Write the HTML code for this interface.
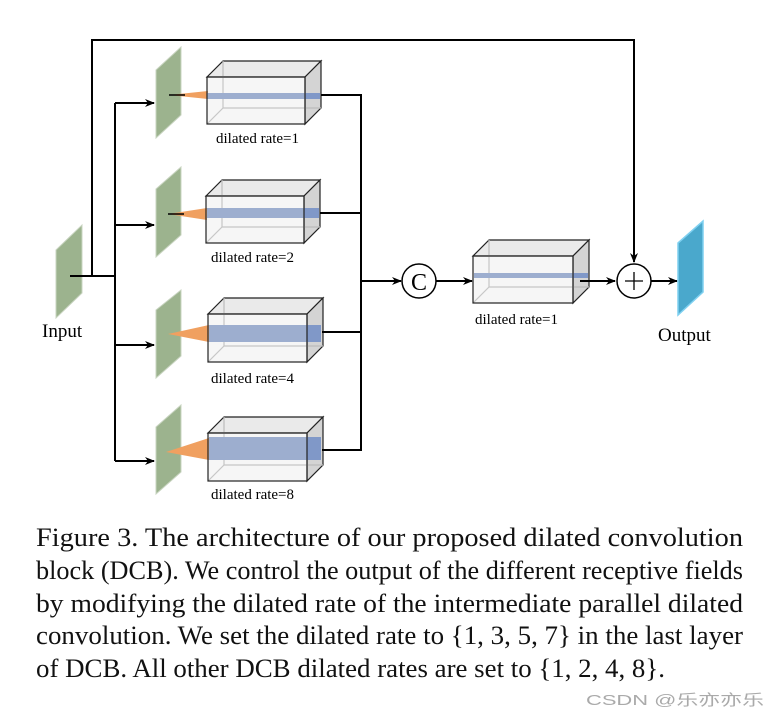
<!DOCTYPE html>
<html><head><meta charset="utf-8"><style>
html,body{margin:0;padding:0;background:#fff;}
svg{display:block;}
svg text{font-family:"Liberation Serif",serif;}
svg text.wm{font-family:"Liberation Sans","Noto Sans CJK SC",sans-serif;}
</style></head><body>
<svg width="780" height="719" viewBox="0 0 780 719" xmlns="http://www.w3.org/2000/svg">
<defs>
<marker id="ar" markerWidth="10" markerHeight="10" refX="9" refY="5" orient="auto" markerUnits="userSpaceOnUse">
<path d="M0,1 L10,5 L0,9 L3,5 Z" fill="#000"/>
</marker>
</defs>
<polyline points="92,276 92,40 634,40 634,262" fill="none" stroke="#000" stroke-width="2" marker-end="url(#ar)"/>
<polygon points="56,250 82,225 82,293 56,318" fill="#9cb38e" stroke="#c8d4c0" stroke-width="1"/>
<line x1="70" y1="276" x2="115" y2="276" stroke="#000" stroke-width="2"/>
<line x1="115" y1="103" x2="115" y2="461" stroke="#000" stroke-width="2"/>
<line x1="115" y1="103" x2="154" y2="103" stroke="#000" stroke-width="2" marker-end="url(#ar)"/>
<line x1="115" y1="225" x2="154" y2="225" stroke="#000" stroke-width="2" marker-end="url(#ar)"/>
<line x1="115" y1="345" x2="154" y2="345" stroke="#000" stroke-width="2" marker-end="url(#ar)"/>
<line x1="115" y1="461" x2="154" y2="461" stroke="#000" stroke-width="2" marker-end="url(#ar)"/>
<text x="42" y="337" font-size="19">Input</text>

<polygon points="156,70 181,47 181,115 156,138" fill="#9cb38e" stroke="#c8d4c0"/>
<polygon points="169,95 208,91 208,99" fill="#f0a060"/>
<line x1="169" y1="95" x2="185" y2="95" stroke="#000" stroke-width="1.5"/>
<g stroke="#222" stroke-width="1.2">
<polygon points="207,77 223,61 321,61 305,77" fill="#eaeaea"/>
<polygon points="305,77 321,61 321,108 305,124" fill="#d4d4d4"/>
<line x1="223" y1="61" x2="223" y2="108" stroke="#bbb"/><line x1="223" y1="108" x2="321" y2="108" stroke="#bbb"/><line x1="207" y1="124" x2="223" y2="108" stroke="#bbb"/>
<rect x="207" y="93" width="113" height="6" fill="#8098c8" stroke="none"/>
<rect x="207" y="77" width="98" height="47" fill="#e0e0e0" fill-opacity="0.3"/>
</g>
<text x="216" y="143" font-size="15">dilated rate=1</text>

<polygon points="156,189 181,167 181,235 156,257" fill="#9cb38e" stroke="#c8d4c0"/>
<polygon points="168,214 207,208 207,220" fill="#f0a060"/>
<line x1="168" y1="214" x2="184" y2="214" stroke="#000" stroke-width="1.5"/>
<g stroke="#222" stroke-width="1.2">
<polygon points="206,196 222,180 320,180 304,196" fill="#eaeaea"/>
<polygon points="304,196 320,180 320,227 304,243" fill="#d4d4d4"/>
<line x1="222" y1="180" x2="222" y2="227" stroke="#bbb"/><line x1="222" y1="227" x2="320" y2="227" stroke="#bbb"/><line x1="206" y1="243" x2="222" y2="227" stroke="#bbb"/>
<rect x="207" y="208" width="112" height="10" fill="#8098c8" stroke="none"/>
<rect x="206" y="196" width="98" height="47" fill="#e0e0e0" fill-opacity="0.3"/>
</g>
<text x="211" y="262" font-size="15">dilated rate=2</text>

<polygon points="156,310 181,290 181,356 156,378" fill="#9cb38e" stroke="#c8d4c0"/>
<polygon points="168,334 209,325 209,342" fill="#f0a060"/>
<g stroke="#222" stroke-width="1.2">
<polygon points="208,314 224,298 323,298 307,314" fill="#eaeaea"/>
<polygon points="307,314 323,298 323,346 307,362" fill="#d4d4d4"/>
<line x1="224" y1="298" x2="224" y2="346" stroke="#bbb"/><line x1="224" y1="346" x2="323" y2="346" stroke="#bbb"/><line x1="208" y1="362" x2="224" y2="346" stroke="#bbb"/>
<rect x="209" y="325" width="112" height="17" fill="#8098c8" stroke="none"/>
<rect x="208" y="314" width="99" height="48" fill="#e0e0e0" fill-opacity="0.3"/>
</g>
<text x="211" y="383" font-size="15">dilated rate=4</text>

<polygon points="156,427 181,405 181,472 156,494" fill="#9cb38e" stroke="#c8d4c0"/>
<polygon points="166,452 209,438 209,460" fill="#f0a060"/>
<g stroke="#222" stroke-width="1.2">
<polygon points="208,433 224,417 323,417 307,433" fill="#eaeaea"/>
<polygon points="307,433 323,417 323,465 307,481" fill="#d4d4d4"/>
<line x1="224" y1="417" x2="224" y2="465" stroke="#bbb"/><line x1="224" y1="465" x2="323" y2="465" stroke="#bbb"/><line x1="208" y1="481" x2="224" y2="465" stroke="#bbb"/>
<rect x="209" y="437" width="112" height="23" fill="#8098c8" stroke="none"/>
<rect x="208" y="433" width="99" height="48" fill="#e0e0e0" fill-opacity="0.3"/>
</g>
<text x="211" y="499" font-size="15">dilated rate=8</text>

<g stroke="#000" stroke-width="2" fill="none">
<polyline points="321,95 361,95 361,450 322,450"/>
<line x1="320" y1="213" x2="361" y2="213"/>
<line x1="322" y1="332" x2="361" y2="332"/>
</g>
<line x1="361" y1="281" x2="401" y2="281" stroke="#000" stroke-width="2" marker-end="url(#ar)"/>
<circle cx="419" cy="281" r="17" fill="#fff" stroke="#000" stroke-width="1.5"/>
<text x="419" y="290" font-size="24" text-anchor="middle">C</text>
<line x1="436" y1="281" x2="472" y2="281" stroke="#000" stroke-width="2" marker-end="url(#ar)"/>

<g stroke="#222" stroke-width="1.2">
<polygon points="473,256 489,240 589,240 573,256" fill="#eaeaea"/>
<polygon points="573,256 589,240 589,287 573,303" fill="#d4d4d4"/>
<line x1="489" y1="240" x2="489" y2="287" stroke="#bbb"/><line x1="489" y1="287" x2="589" y2="287" stroke="#bbb"/><line x1="473" y1="303" x2="489" y2="287" stroke="#bbb"/>
<rect x="474" y="273" width="114" height="5" fill="#8098c8" stroke="none"/>
<rect x="473" y="256" width="100" height="47" fill="#e0e0e0" fill-opacity="0.3"/>
</g>
<text x="475" y="324" font-size="15">dilated rate=1</text>
<line x1="580" y1="281" x2="615" y2="281" stroke="#000" stroke-width="2" marker-end="url(#ar)"/>
<circle cx="634" cy="281" r="17" fill="#fff" stroke="#000" stroke-width="1.5"/>
<line x1="625" y1="281" x2="643" y2="281" stroke="#000" stroke-width="1.3"/>
<line x1="634" y1="272" x2="634" y2="290" stroke="#000" stroke-width="1.3"/>
<line x1="651" y1="281" x2="677" y2="281" stroke="#000" stroke-width="2" marker-end="url(#ar)"/>
<polygon points="678,243 703,221 703,292 678,315" fill="#4aa8cc" stroke="#7fd0f0" stroke-width="1.5"/>
<text x="658" y="341" font-size="19">Output</text>

<g font-size="26" fill="#111">
<text x="36" y="546" textLength="707" lengthAdjust="spacingAndGlyphs">Figure 3. The architecture of our proposed dilated convolution</text>
<text x="36" y="579" textLength="707" lengthAdjust="spacingAndGlyphs">block (DCB). We control the output of the different receptive fields</text>
<text x="36" y="612" textLength="707" lengthAdjust="spacingAndGlyphs">by modifying the dilated rate of the intermediate parallel dilated</text>
<text x="36" y="644" textLength="707" lengthAdjust="spacingAndGlyphs">convolution. We set the dilated rate to {1, 3, 5, 7} in the last layer</text>
<text x="36" y="677" textLength="629" lengthAdjust="spacingAndGlyphs">of DCB. All other DCB dilated rates are set to {1, 2, 4, 8}.</text>
</g>
<text class="wm" x="586" y="705" font-size="15" fill="#aaa" textLength="178" lengthAdjust="spacingAndGlyphs">CSDN @乐亦亦乐</text>
</svg>
</body></html>
